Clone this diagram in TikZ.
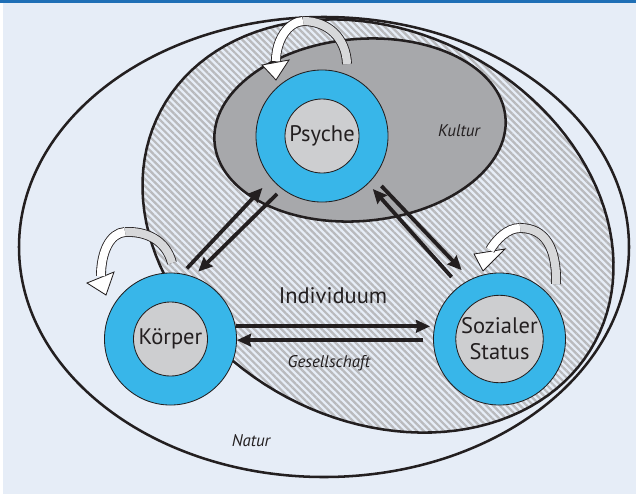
\documentclass[tikz,border=0pt]{standalone}
\usepackage{fontspec}
\setmainfont{PT Sans}
\usetikzlibrary{arrows.meta,patterns.meta}
\definecolor{paper}{HTML}{E6EDF7}
\definecolor{rule}{HTML}{1F6FB6}
\definecolor{ringblue}{HTML}{38B6E9}
\definecolor{coregray}{HTML}{CDCED0}
\definecolor{kulturgray}{HTML}{A7A8AB}
\definecolor{hatchgray}{HTML}{B9BABD}
\definecolor{loopgray}{HTML}{D7D8DA}
\definecolor{ink}{HTML}{231F20}

\begin{document}
\begin{tikzpicture}[
    x=0.025cm, y=-0.025cm,
    ring/.style={
        circle,
        draw=ink,
        line width=0.6pt,
        fill=ringblue,
        minimum size=3.3cm,
        inner sep=0pt,
    },
    core/.style={
        circle,
        draw=ink,
        line width=0.6pt,
        fill=coregray,
        minimum size=1.85cm,
        inner sep=0pt,
        text=ink,
        align=center,
        font=\fontsize{16}{18.5}\selectfont,
    },
    zone/.style={draw=ink, line width=1.8pt},
    conn/.style={draw=ink, line width=2.7pt, -{Stealth[length=10pt,width=9pt,inset=1pt]}},
    band/.style={draw=ink, line width=0.6pt, double=#1, double distance=5.8pt},
    bandhead/.style={draw=ink, line width=0.6pt, fill=white, line join=miter},
    tag/.style={text=ink, font=\fontsize{12}{14}\selectfont\itshape},
]

\useasboundingbox (0,0) rectangle (636,494);
\fill[white] (0,0) rectangle (636,494);
\fill[paper] (3,2) rectangle (636,494);
\fill[rule] (0,0) rectangle (636,2.5);

% Natur, Individuum, Kultur
\draw[zone] (324,247) ellipse[x radius=305, y radius=230];
\draw[zone, pattern={Lines[angle=-45,distance=3.4pt,line width=1.6pt]}, pattern color=hatchgray]
    plot[domain=0:360, samples=121, variable=\t]
    ({378+217.2*cos(\t)-91.1*sin(\t)}, {226+115.5*cos(\t)+171.3*sin(\t)}) -- cycle;
\draw[zone, fill=kulturgray, rotate around={5:(360,130)}] (360,130) ellipse[x radius=146, y radius=91];

\node[ring] (psyche) at (322,136) {};
\node[ring] (koerper) at (170.5,339) {};
\node[ring] (status) at (499.5,339) {};

\draw[conn, shorten <=5pt, shorten >=9pt] (koerper.80) -- (psyche.220);
\draw[conn, shorten <=5pt, shorten >=5pt] (psyche.233) -- (koerper.70);
\draw[conn, shorten <=8.5pt, shorten >=5pt] (status.127) -- (psyche.-46);
\draw[conn, shorten <=8pt, shorten >=9pt] (psyche.-39) -- (status.116);
\draw[conn, shorten >=3pt] (koerper.11) -- (status.169);
\draw[conn, shorten <=7pt] (status.181) -- (koerper.-1);

\node[core] (psycheC) at (psyche) {Psyche};
\node[core] (koerperC) at (koerper) {Körper};
\node[core] (statusC) at (status) {Sozialer\\Status};

% self loops
\coordinate (pTail) at (347,64);
\coordinate (pTop) at (303,21);
\coordinate (pHead) at (276,61);
\draw[band=loopgray] (pTail) .. controls (346,38) and (328,21) .. (pTop);
\draw[bandhead] (262,65) -- (276,80) -- (289,60) -- cycle;
\draw[band=white] (pTop) .. controls (288,22) and (276,40) .. (pHead);

\coordinate (kTail) at (172,263);
\coordinate (kTop) at (125,232);
\coordinate (kHead) at (101,276);
\draw[band=loopgray] (kTail) .. controls (166,240) and (146,231) .. (kTop);
\draw[bandhead] (87,283) -- (106,295) -- (114,272) -- cycle;
\draw[band=white] (kTop) .. controls (110,233) and (101,252) .. (kHead);

\coordinate (sTail) at (556,284);
\coordinate (sTop) at (520,228);
\coordinate (sHead) at (490,250);
\draw[band=loopgray] (sTail) .. controls (557,248) and (545,228) .. (sTop);
\draw[bandhead] (474,254) -- (483,271) -- (505,249) -- cycle;
\draw[band=white] (sTop) .. controls (507,228) and (496,240) .. (sHead);

\node[text=ink, font=\fontsize{16}{18}\selectfont] (indiv) at (333,296) {Individuum};
\node[tag] (ges) at (329,363) {Gesellschaft};
\node[tag] (kult) at (459,131) {Kultur};
\node[tag] (natur) at (251,441) {Natur};

\end{tikzpicture}
\end{document}
